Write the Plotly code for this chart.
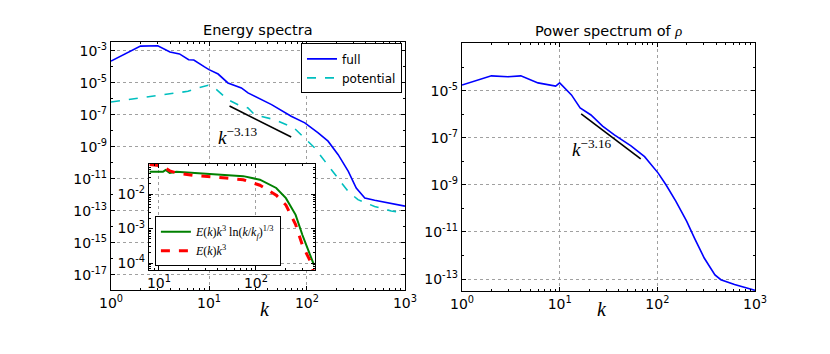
import plotly.graph_objects as go

# energy spectrum (left panel)
k_full = [1, 2, 3, 4, 5, 6.2, 7, 8, 9, 10, 12.4, 15.6, 21.4, 25, 29.4, 43.5, 69, 95,
          130, 164, 208, 264, 318, 389, 490, 724, 1000]
E_full = [2.3e-4, 2.0e-3, 2.1e-3, 8.7e-4, 6.5e-4, 2.8e-4, 2.7e-4, 1.5e-4, 1.0e-4, 6.8e-5,
          3.6e-5, 1.0e-5, 4.9e-6, 2.4e-6, 1.5e-6, 4.4e-7, 8.3e-8, 3.2e-8,
          7.5e-9, 2.3e-9, 3.3e-10, 3.0e-11, 2.7e-12, 6.5e-13, 4.7e-13, 2.8e-13, 2.0e-13]

k_pot = [1, 6.1, 7.7, 9.8, 11.4, 15.6, 19.8, 25, 29.4, 46.8, 74, 95, 120, 152, 208,
         262, 331, 490, 724, 1000]
E_pot = [6.5e-7, 3.0e-6, 4.9e-6, 7.2e-6, 4.9e-6, 9.1e-7, 4.4e-7, 2.7e-7, 1.0e-7, 5.1e-8,
         1.5e-8, 3.6e-9, 8.7e-10, 1.3e-10, 1.0e-11, 1.7e-12, 5.1e-13, 1.9e-13, 1.0e-13, 7.5e-14]

fit1_k = [16.2, 69]
fit1_E = [3.6e-7, 4.2e-9]

# inset: compensated spectra
k_in = [8, 9.1, 11, 11.7, 12.9, 15.1, 22.4, 49, 74, 110, 162, 204, 257, 302, 363, 398]
comp_log = [0.044, 0.044, 0.044, 0.050, 0.041, 0.044, 0.041, 0.035, 0.033, 0.026,
            0.015, 0.0076, 0.0025, 6.5e-4, 1.7e-4, 8.7e-5]
comp_k3 = [0.072, 0.069, 0.065, 0.056, 0.047, 0.041, 0.035, 0.029, 0.026, 0.018,
           0.0093, 0.0048, 0.0013, 3.3e-4, 1.15e-4, 5.0e-5]

# power spectrum of rho (right panel)
k_rho = [1, 2, 2.95, 4, 6, 9.1, 10, 11.2, 13.2, 16.2, 20.9, 27.5, 36.3, 53.7, 74, 102,
         123, 155, 200, 240, 302, 389, 447, 617, 1000]
P_rho = [1.8e-5, 4.4e-5, 4.0e-5, 4.4e-5, 2.2e-5, 1.6e-5, 2.2e-5, 1.35e-5, 6.8e-6, 1.9e-6,
         9.5e-7, 3.2e-7, 1.35e-7, 4.6e-8, 1.6e-8, 3.2e-9, 1.0e-9, 2.0e-10, 2.8e-11,
         5.5e-12, 7.8e-13, 1.5e-13, 9.3e-14, 5.8e-14, 3.3e-14]

fit2_k = [16.6, 67.6]
fit2_P = [1.05e-6, 1.3e-8]


def sup_labels(vals):
    return ["10<sup>%d</sup>" % v for v in vals]


SERIF = "Liberation Serif"
SANS = "DejaVu Sans"

fig = go.Figure()
fig.add_trace(go.Scatter(x=k_full, y=E_full, mode="lines", name="full",
                         line=dict(color="#0000ff", width=1.6)))
fig.add_trace(go.Scatter(x=k_pot, y=E_pot, mode="lines", name="potential",
                         line=dict(color="#00bfbf", width=1.6, dash="dash")))
fig.add_trace(go.Scatter(x=fit1_k, y=fit1_E, mode="lines", showlegend=False,
                         line=dict(color="black", width=1.6)))

fig.add_trace(go.Scatter(x=k_rho, y=P_rho, mode="lines", showlegend=False,
                         line=dict(color="#0000ff", width=1.6), xaxis="x2", yaxis="y2"))
fig.add_trace(go.Scatter(x=fit2_k, y=fit2_P, mode="lines", showlegend=False,
                         line=dict(color="black", width=1.6), xaxis="x2", yaxis="y2"))

fig.add_trace(go.Scatter(x=k_in, y=comp_log, mode="lines", legend="legend2",
                         name="<i>E</i>(<i>k</i>)<i>k</i><sup>3</sup> ln(<i>k</i>/<i>k<sub>f</sub></i>)<sup>1/3</sup>",
                         line=dict(color="#008000", width=2), xaxis="x3", yaxis="y3"))
fig.add_trace(go.Scatter(x=k_in, y=comp_k3, mode="lines", legend="legend2",
                         name="<i>E</i>(<i>k</i>)<i>k</i><sup>3</sup>",
                         line=dict(color="#ff0000", width=3, dash="dash"), xaxis="x3", yaxis="y3"))

axis_common = dict(type="log", showline=True, linecolor="black", linewidth=1.2, mirror="allticks",
                   ticks="inside", ticklen=4, tickcolor="black", showgrid=True, automargin=False,
                   gridcolor="#a0a0a0", griddash="dot", gridwidth=1, zeroline=False,
                   tickfont=dict(family=SANS, size=14, color="black"))

decade_minor = [m * 10 ** e for e in range(0, 3) for m in range(2, 10)]
kx = dict(tickvals=[1, 10, 100, 1000], ticktext=sup_labels([0, 1, 2, 3]),
          minor=dict(tickvals=decade_minor, ticks="inside", ticklen=2, tickcolor="black", showgrid=False))

ey = list(range(-3, -18, -2))
fig.update_layout(
    width=830, height=354,
    margin=dict(l=0, r=0, t=0, b=0, autoexpand=False),
    paper_bgcolor="white", plot_bgcolor="white",
    xaxis=dict(axis_common, domain=[0.1241, 0.4783], range=[0, 3], anchor="y", **kx),
    yaxis=dict(axis_common, domain=[0.2034, 0.904], range=[-17.94, -2.44], anchor="x",
               tickvals=[10 ** v for v in ey], ticktext=sup_labels(ey),
               minor=dict(tickvals=[10.0 ** v for v in range(-4, -18, -2)], ticks="inside",
                          ticklen=2, tickcolor="black", showgrid=False)),
    xaxis2=dict(axis_common, domain=[0.547, 0.9], range=[0, 3], anchor="y2", **kx),
    yaxis2=dict(axis_common, domain=[0.2006, 0.9011], range=[-13.51, -2.96], anchor="x2",
                tickvals=[10.0 ** v for v in range(-5, -14, -2)], ticktext=sup_labels(range(-5, -14, -2)),
                minor=dict(tickvals=[10.0 ** v for v in range(-4, -14, -2)], ticks="inside",
                           ticklen=2, tickcolor="black", showgrid=False)),
    xaxis3=dict(axis_common, domain=[0.1699, 0.3699], range=[0.897, 2.61], anchor="y3",
                tickvals=[10, 100], ticktext=sup_labels([1, 2]),
                minor=dict(tickvals=[m * 10 ** e for e in range(0, 3) for m in range(2, 10)],
                           ticks="inside", ticklen=2, tickcolor="black", showgrid=False)),
    yaxis3=dict(axis_common, domain=[0.2599, 0.5593], range=[-4.2, -1.13], anchor="x3",
                tickvals=[1e-2, 1e-3, 1e-4], ticktext=sup_labels([-2, -3, -4]),
                minor=dict(tickvals=[m * 10.0 ** e for e in range(-5, -1) for m in range(2, 10)],
                           ticks="inside", ticklen=2, tickcolor="black", showgrid=False)),
    legend=dict(x=0.353, y=0.90, xanchor="left", yanchor="top", bgcolor="white",
                bordercolor="black", borderwidth=1, font=dict(family=SANS, size=12, color="black"),
                tracegroupgap=0),
    legend2=dict(x=0.177, y=0.412, xanchor="left", yanchor="top", bgcolor="white",
                 bordercolor="black", borderwidth=1, font=dict(family=SERIF, size=12, color="black")),
    annotations=[
        dict(text="Energy spectra", x=0.3012, y=0.904, xref="paper", yref="paper",
             xanchor="center", yanchor="bottom", showarrow=False, yshift=2,
             font=dict(family=SANS, size=14.5, color="black")),
        dict(text="Power spectrum of <span style='font-family:Liberation Serif'><i>ρ</i></span>",
             x=0.7235, y=0.9011, xref="paper", yref="paper", xanchor="center", yanchor="bottom",
             showarrow=False, yshift=2, font=dict(family=SANS, size=14.5, color="black")),
        dict(text="<i>k</i>", x=0.3012, y=0.113, xref="paper", yref="paper", showarrow=False,
             font=dict(family=SERIF, size=20, color="black")),
        dict(text="<i>k</i>", x=0.7235, y=0.113, xref="paper", yref="paper", showarrow=False,
             font=dict(family=SERIF, size=20, color="black")),
        dict(text="<i>k</i><sup>−3.13</sup>", x=1.30, y=-8.31, xref="x", yref="y", showarrow=False,
             font=dict(family=SERIF, size=19, color="black")),
        dict(text="<i>k</i><sup>−3.16</sup>", x=1.33, y=-7.43, xref="x2", yref="y2", showarrow=False,
             font=dict(family=SERIF, size=19, color="black")),
    ],
)

fig.write_html("out.html")
